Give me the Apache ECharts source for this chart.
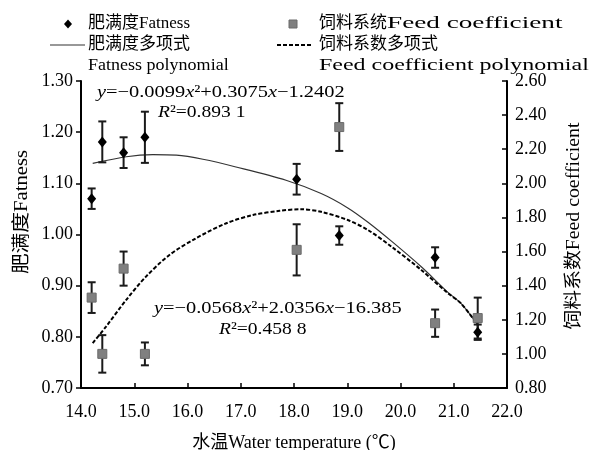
<!DOCTYPE html>
<html>
<head>
<meta charset="utf-8">
<title>肥满度与饲料系数</title>
<script src="https://cdn.jsdelivr.net/npm/echarts@6/dist/echarts.min.js"></script>
<style>
  html, body { margin: 0; padding: 0; background: #fff; }
  #main { width: 590px; height: 450px; }
</style>
</head>
<body>
<div id="main"></div>
<script type="text/javascript">
// 数据：水温、肥满度、饲料系数
var temps = [14.2, 14.4, 14.8, 15.2, 18.05, 18.85, 20.65, 21.45];
var fatness = [1.070, 1.181, 1.160, 1.190, 1.108, 0.998, 0.955, 0.809];
var fatnessErr = [0.020, 0.040, 0.030, 0.050, 0.030, 0.018, 0.020, 0.015];
var feed = [1.33, 1.00, 1.50, 1.00, 1.61, 2.33, 1.18, 1.21];
var feedErr = [0.09, 0.11, 0.10, 0.067, 0.15, 0.14, 0.08, 0.12];

// 多项式趋势线（沿图中曲线读点）
var fatCurveX = [14.22, 14.85, 15.35, 15.79, 16.29, 16.91, 17.85, 18.51, 19.01, 19.39, 19.83, 20.39, 20.89, 21.14, 21.46];
var fatCurveY = [1.139, 1.152, 1.156, 1.155, 1.147, 1.132, 1.106, 1.080, 1.052, 1.024, 0.987, 0.937, 0.887, 0.865, 0.822];
var feedCurveX = [14.22, 14.47, 14.85, 15.22, 15.66, 16.16, 16.73, 17.23, 17.73, 18.14, 18.51, 19.01, 19.39, 19.83, 20.39, 20.89, 21.14, 21.46];
var feedCurveY = [1.063, 1.160, 1.317, 1.453, 1.580, 1.678, 1.766, 1.814, 1.839, 1.848, 1.833, 1.785, 1.726, 1.629, 1.492, 1.356, 1.295, 1.166];

// 刻度
var xTicks = [14, 15, 16, 17, 18, 19, 20, 21, 22];
var leftTicks = [0.7, 0.8, 0.9, 1.0, 1.1, 1.2, 1.3];
var rightTicks = [0.8, 1.0, 1.2, 1.4, 1.6, 1.8, 2.0, 2.2, 2.4, 2.6];

var FONT = "'Liberation Serif', 'Noto Sans CJK SC', serif";

function zip(a, b) {
    var out = [];
    for (var i = 0; i < a.length; i++) out.push([a[i], b[i]]);
    return out;
}
function errData(x, v, e) {
    var out = [];
    for (var i = 0; i < x.length; i++) out.push([x[i], v[i] - e[i], v[i] + e[i]]);
    return out;
}

// 误差线
function renderErr(params, api) {
    var top = api.coord([api.value(0), api.value(2)]);
    var bot = api.coord([api.value(0), api.value(1)]);
    var w = 4;
    var st = { stroke: '#1a1a1a', lineWidth: 2 };
    return {
        type: 'group',
        children: [
            { type: 'line', shape: { x1: top[0], y1: top[1], x2: bot[0], y2: bot[1] }, style: st },
            { type: 'line', shape: { x1: top[0] - w, y1: top[1], x2: top[0] + w, y2: top[1] }, style: st },
            { type: 'line', shape: { x1: bot[0] - w, y1: bot[1], x2: bot[0] + w, y2: bot[1] }, style: st }
        ]
    };
}

// 文字（图例、公式、轴名）
function txt(x, y, s, size, opt) {
    opt = opt || {};
    return {
        type: 'text', x: x, y: y,
        rotation: opt.rot || 0,
        scaleX: opt.sx || 1,
        style: {
            text: s,
            font: size + 'px ' + FONT,
            fill: '#000',
            align: opt.align || 'left',
            verticalAlign: 'middle',
            rich: { i: { fontStyle: 'italic', fontFamily: FONT, fontSize: size } }
        }
    };
}

var chart = echarts.init(document.getElementById('main'));

var legendRows = [24, 45, 66];

var option = {
    animation: false,
    backgroundColor: '#fff',
    textStyle: { fontFamily: FONT },
    grid: { left: 81, right: 83, top: 81, bottom: 62, outerBoundsMode: 'none', containLabel: false },
    xAxis: {
        type: 'value',
        min: xTicks[0], max: xTicks[xTicks.length - 1], interval: 1,
        name: '水温Water temperature (℃)',
        nameLocation: 'middle', nameGap: 46,
        nameTextStyle: { fontFamily: FONT, fontSize: 18, color: '#000' },
        axisLine: { onZero: false, lineStyle: { color: '#000', width: 2 } },
        axisTick: { inside: true, length: 5, lineStyle: { color: '#000', width: 1.5 } },
        axisLabel: { fontFamily: FONT, fontSize: 18, color: '#000', margin: 15,
            formatter: function (v) { return v.toFixed(1); } },
        splitLine: { show: false }
    },
    yAxis: [{
        type: 'value',
        min: leftTicks[0], max: leftTicks[leftTicks.length - 1], interval: 0.1,
        axisLine: { show: true, lineStyle: { color: '#000', width: 2 } },
        axisTick: { show: true, length: 5, lineStyle: { color: '#000', width: 1.5 } },
        axisLabel: { fontFamily: FONT, fontSize: 18, color: '#000', margin: 8,
            formatter: function (v) { return v.toFixed(2); } },
        splitLine: { show: false }
    }, {
        type: 'value',
        position: 'right',
        min: rightTicks[0], max: rightTicks[rightTicks.length - 1], interval: 0.2,
        axisLine: { show: true, lineStyle: { color: '#000', width: 2 } },
        axisTick: { show: true, inside: true, length: 5, lineStyle: { color: '#000', width: 1.5 } },
        axisLabel: { fontFamily: FONT, fontSize: 18, color: '#000', margin: 8,
            formatter: function (v) { return v.toFixed(2); } },
        splitLine: { show: false }
    }],
    series: [{
        name: '肥满度多项式',
        type: 'line',
        yAxisIndex: 0,
        smooth: 0.3,
        symbol: 'none',
        lineStyle: { color: '#333', width: 1.2 },
        data: zip(fatCurveX, fatCurveY),
        z: 2
    }, {
        name: '饲料系数多项式',
        type: 'line',
        yAxisIndex: 1,
        smooth: 0.3,
        symbol: 'none',
        lineStyle: { color: '#000', width: 2, type: [4, 2] },
        data: zip(feedCurveX, feedCurveY),
        z: 2
    }, {
        type: 'custom',
        yAxisIndex: 0,
        renderItem: renderErr,
        data: errData(temps, fatness, fatnessErr),
        z: 3
    }, {
        type: 'custom',
        yAxisIndex: 1,
        renderItem: renderErr,
        data: errData(temps, feed, feedErr),
        z: 3
    }, {
        name: '肥满度Fatness',
        type: 'scatter',
        yAxisIndex: 0,
        symbol: 'diamond',
        symbolSize: [9, 11],
        itemStyle: { color: '#000', opacity: 1 },
        data: zip(temps, fatness),
        z: 5
    }, {
        name: '饲料系统Feed coefficient',
        type: 'scatter',
        yAxisIndex: 1,
        symbol: 'rect',
        symbolSize: 9,
        itemStyle: { color: '#808080', borderColor: '#6a6a6a', borderWidth: 1, opacity: 1 },
        data: zip(temps, feed),
        z: 5
    }],
    graphic: [
        // 图例 左列
        { type: 'polygon', shape: { points: [[68, legendRows[0] - 4.5], [72, legendRows[0]], [68, legendRows[0] + 4.5], [64, legendRows[0]]] },
          style: { fill: '#000' } },
        txt(88, legendRows[0], '肥满度Fatness', 17),
        { type: 'line', shape: { x1: 50, y1: legendRows[1], x2: 85, y2: legendRows[1] },
          style: { stroke: '#333', lineWidth: 1.2 } },
        txt(88, legendRows[1], '肥满度多项式', 17),
        txt(88, legendRows[2], 'Fatness polynomial', 17, { sx: 1.06 }),
        // 图例 右列
        { type: 'rect', shape: { x: 289, y: legendRows[0] - 4, width: 8, height: 8 },
          style: { fill: '#808080', stroke: '#6a6a6a', lineWidth: 1 } },
        txt(319, legendRows[0], '饲料系统', 17),
        txt(387, legendRows[0], 'Feed coefficient', 17, { sx: 1.6 }),
        { type: 'line', shape: { x1: 277, y1: legendRows[1], x2: 313, y2: legendRows[1] },
          style: { stroke: '#000', lineWidth: 2, lineDash: [4, 2] } },
        txt(319, legendRows[1], '饲料系数多项式', 17),
        txt(319, legendRows[2], 'Feed coefficient polynomial', 17, { sx: 1.41 }),
        // 公式
        txt(97, 93, '{i|y}=−0.0099{i|x}²+0.3075{i|x}−1.2402', 17, { sx: 1.2 }),
        txt(158, 113, '{i|R}²=0.893 1', 17, { sx: 1.15 }),
        txt(154, 309, '{i|y}=−0.0568{i|x}²+2.0356{i|x}−16.385', 17, { sx: 1.2 }),
        txt(219, 330, '{i|R}²=0.458 8', 17, { sx: 1.15 }),
        // 纵轴名称
        txt(22, 212, '肥满度Fatness', 18, { rot: Math.PI / 2, align: 'center', sx: 1.15 }),
        txt(574, 226, '饲料系数Feed coefficient', 18, { rot: Math.PI / 2, align: 'center', sx: 1.1 })
    ]
};

chart.setOption(option);
</script>
</body>
</html>
